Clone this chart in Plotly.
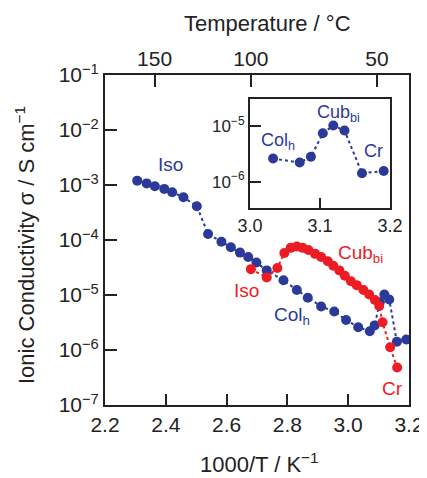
import plotly.graph_objects as go

# ---- data (1000/T in K^-1, ionic conductivity in S cm^-1) ----
blue_x = [2.306, 2.337, 2.364, 2.395, 2.421, 2.458, 2.502, 2.539, 2.583, 2.614,
          2.644, 2.671, 2.698, 2.732, 2.787, 2.831, 2.867, 2.911, 2.954, 2.993,
          3.033, 3.071, 3.087, 3.104, 3.119, 3.135, 3.160, 3.191]
blue_sigma = [1.20e-3, 1.07e-3, 9.5e-4, 8.5e-4, 7.4e-4, 6.0e-4, 4.1e-4, 1.29e-4, 9.3e-5, 7.4e-5,
              5.9e-5, 4.9e-5, 3.9e-5, 2.8e-5, 1.86e-5, 1.23e-5, 8.9e-6, 6.2e-6, 5.0e-6, 3.5e-6,
              2.6e-6, 2.2e-6, 2.8e-6, 7.4e-6, 1.02e-5, 8.3e-6, 1.41e-6, 1.55e-6]

red_x = [2.680, 2.732, 2.767, 2.790, 2.811, 2.831, 2.850, 2.869, 2.891, 2.911,
         2.933, 2.951, 2.971, 2.989, 3.009, 3.028, 3.050, 3.069, 3.088, 3.102,
         3.113, 3.138, 3.161]
red_sigma = [2.95e-5, 2.09e-5, 3.1e-5, 5.8e-5, 7.2e-5, 7.6e-5, 7.2e-5, 6.6e-5, 5.6e-5, 4.9e-5,
             4.1e-5, 3.4e-5, 2.8e-5, 2.24e-5, 1.78e-5, 1.51e-5, 1.23e-5, 1.02e-5, 8.1e-6, 6.3e-6,
             3.2e-6, 1.12e-6, 4.8e-7]

# inset uses the blue series in the 3.0-3.2 window
inset_x = [x for x in blue_x if x >= 3.0]
inset_sigma = [s for x, s in zip(blue_x, blue_sigma) if x >= 3.0]

x_ticks = [2.2, 2.4, 2.6, 2.8, 3.0, 3.2]
x_ticklabels = ["2.2", "2.4", "2.6", "2.8", "3.0", "3.2"]
y_ticks = [1e-7, 1e-6, 1e-5, 1e-4, 1e-3, 1e-2, 1e-1]
y_ticklabels = ["10<sup>−7</sup>", "10<sup>−6</sup>", "10<sup>−5</sup>", "10<sup>−4</sup>",
                "10<sup>−3</sup>", "10<sup>−2</sup>", "10<sup>−1</sup>"]
temp_c = [150, 100, 50]
temp_labels = ["150", "100", "50"]
inset_x_ticks = [3.0, 3.1, 3.2]
inset_x_labels = ["3.0", "3.1", "3.2"]
inset_y_ticks = [1e-6, 1e-5]
inset_y_labels = ["10<sup>−6</sup>", "10<sup>−5</sup>"]

BLUE = "#2B3A98"
RED = "#EC1C24"
AX = "#222222"
FONT = "Arial, Liberation Sans, sans-serif"

# page body has an 8px default margin; compensate so the plot frame lands
# at x 105..409, y 75..405 in the 427x478 window
BODY = 8
W, H = 427 - BODY, 478 - BODY
ML, MT, MR, MB = 105 - BODY, 75 - BODY, 18, 73


def px_to_paper_x(px):
    return (px - 105) / 304


def px_to_paper_y(py):
    return (405 - py) / 330


fig = go.Figure()


def series(x, y, color, xa, ya):
    return go.Scatter(x=x, y=y, mode="lines+markers", xaxis=xa, yaxis=ya,
                      line=dict(color=color, width=2, dash="dot"),
                      marker=dict(size=10, color=color), showlegend=False,
                      hoverinfo="skip")


fig.add_trace(series(blue_x, blue_sigma, BLUE, "x", "y"))
fig.add_trace(series(red_x, red_sigma, RED, "x", "y"))
# invisible trace to activate the top temperature axis
fig.add_trace(go.Scatter(x=[2.2, 3.2], y=[1e-7, 1e-7], xaxis="x2", yaxis="y",
                         mode="markers", marker=dict(opacity=0), showlegend=False,
                         hoverinfo="skip"))
fig.add_trace(series(inset_x, inset_sigma, BLUE, "x3", "y3"))

common = dict(showgrid=False, zeroline=False, linecolor=AX, linewidth=2,
              ticks="inside", tickcolor=AX, tickwidth=2)

fig.update_layout(
    width=W, height=H,
    margin=dict(l=ML, r=MR, t=MT, b=MB, autoexpand=False),
    paper_bgcolor="white", plot_bgcolor="white",
    font=dict(family=FONT, color="#222222"),
    xaxis=dict(domain=[0, 1], range=[2.2, 3.2], tickvals=x_ticks, ticktext=x_ticklabels,
               ticklen=11, mirror=True, showline=True, tickfont=dict(size=21), **common),
    yaxis=dict(type="log", range=[-7, -1], tickvals=y_ticks, ticktext=y_ticklabels,
               ticklen=12, mirror=True, showline=True, tickfont=dict(size=21), **common),
    xaxis2=dict(overlaying="x", side="top", anchor="y", range=[2.2, 3.2],
                tickvals=[1000 / (t + 273.15) for t in temp_c], ticktext=temp_labels,
                ticklen=12, showline=False, showgrid=False, zeroline=False,
                ticks="inside", tickcolor=AX, tickwidth=2, tickfont=dict(size=21),
                ticklabelstandoff=4),
    xaxis3=dict(domain=[px_to_paper_x(250), px_to_paper_x(390)], anchor="y3",
                range=[3.0, 3.2], tickvals=inset_x_ticks, ticktext=inset_x_labels,
                ticklen=10, mirror=True, showline=True, tickfont=dict(size=18), **common),
    yaxis3=dict(domain=[px_to_paper_y(208.3), px_to_paper_y(99.3)], anchor="x3",
                type="log", range=[-6.48, -4.52],
                tickvals=inset_y_ticks, ticktext=inset_y_labels, ticklen=11,
                mirror=True, showline=True, tickfont=dict(size=17), **common),
)

ann = []
# axis titles
ann.append(dict(text="Temperature / °C", xref="paper", yref="paper",
                x=px_to_paper_x(267), y=px_to_paper_y(23), showarrow=False,
                xanchor="center", yanchor="middle", font=dict(size=22)))
ann.append(dict(text="1000/T / K<sup>−1</sup>", xref="paper", yref="paper",
                x=px_to_paper_x(260), y=px_to_paper_y(463), showarrow=False,
                xanchor="center", yanchor="middle", font=dict(size=22)))
ann.append(dict(text="Ionic Conductivity σ / S cm<sup>−1</sup>", xref="paper", yref="paper",
                x=px_to_paper_x(25), y=px_to_paper_y(245), showarrow=False, textangle=-90,
                xanchor="center", yanchor="middle", font=dict(size=22)))

# phase labels, main plot
labels_main = [
    ("Iso", 2.414, -2.636, BLUE),
    ("Iso", 2.666, -4.92, RED),
    ("Col<sub>h</sub>", 2.815, -5.38, BLUE),
    ("Cub<sub>bi</sub>", 3.042, -4.25, RED),
    ("Cr", 3.146, -6.70, RED),
]
for t, x, y, c in labels_main:
    ann.append(dict(text=t, x=x, y=y, xref="x", yref="y", showarrow=False,
                    xanchor="center", yanchor="middle", font=dict(size=19, color=c)))

labels_inset = [
    ("Col<sub>h</sub>", 3.040, -5.27),
    ("Cub<sub>bi</sub>", 3.126, -4.77),
    ("Cr", 3.177, -5.45),
]
for t, x, y in labels_inset:
    ann.append(dict(text=t, x=x, y=y, xref="x3", yref="y3", showarrow=False,
                    xanchor="center", yanchor="middle", font=dict(size=18, color=BLUE)))

fig.update_layout(annotations=ann)

fig.write_html("out.html")
